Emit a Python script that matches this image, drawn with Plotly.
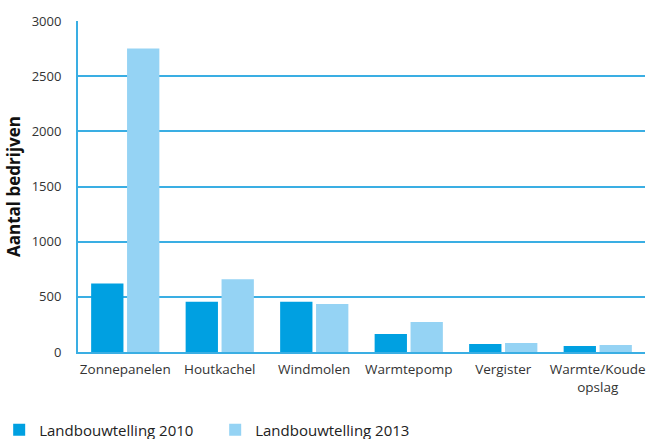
import plotly.graph_objects as go

categories = ["Zonnepanelen", "Houtkachel", "Windmolen", "Warmtepomp", "Vergister", "Warmte/Koude<br>opslag"]
values_2010 = [620, 455, 455, 163, 72, 54]
values_2013 = [2750, 660, 435, 272, 82, 64]
series_names = ["Landbouwtelling 2010", "Landbouwtelling 2013"]
y_ticks = [0, 500, 1000, 1500, 2000, 2500, 3000]

c2010 = "#00a0e1"
c2013 = "#95d3f4"
grid = "#3aaee3"

fig = go.Figure()
fig.add_trace(go.Bar(x=categories, y=values_2010, name=series_names[0], marker=dict(color=c2010, line=dict(width=0))))
fig.add_trace(go.Bar(x=categories, y=values_2013, name=series_names[1], marker=dict(color=c2013, line=dict(width=0))))

fig.update_layout(
    width=646, height=439,
    margin=dict(l=78, r=1, t=21, b=87, autoexpand=False),
    paper_bgcolor="white", plot_bgcolor="white",
    barmode="group", bargap=0.24, bargroupgap=0.1,
    font=dict(family="Open Sans, sans-serif", color="#333333", size=13),
    legend=dict(orientation="h", x=-0.139, xanchor="left", y=-0.186, yanchor="top",
                font=dict(size=15, color="#222222"), itemwidth=30,
                entrywidth=171, entrywidthmode="pixels"),
    xaxis=dict(showline=True, linecolor=grid, linewidth=2, ticks="", showgrid=False,
               tickfont=dict(size=13.5, color="#333333"), ticklabelstandoff=4),
    yaxis=dict(range=[0, 3000], tickvals=y_ticks, showgrid=True, gridcolor=grid, gridwidth=1.5,
               showline=True, linecolor=grid, linewidth=2, ticks="", zeroline=False,
               tickfont=dict(size=13, color="#333333"), ticklabelstandoff=12,
               title=dict(text="<b>Aantal bedrijven</b>", font=dict(size=17, color="#111111"), standoff=7)),
)

fig.write_html("out.html", config={"displayModeBar": False},
               post_script="document.body.style.margin='0';document.body.style.overflow='hidden';")
